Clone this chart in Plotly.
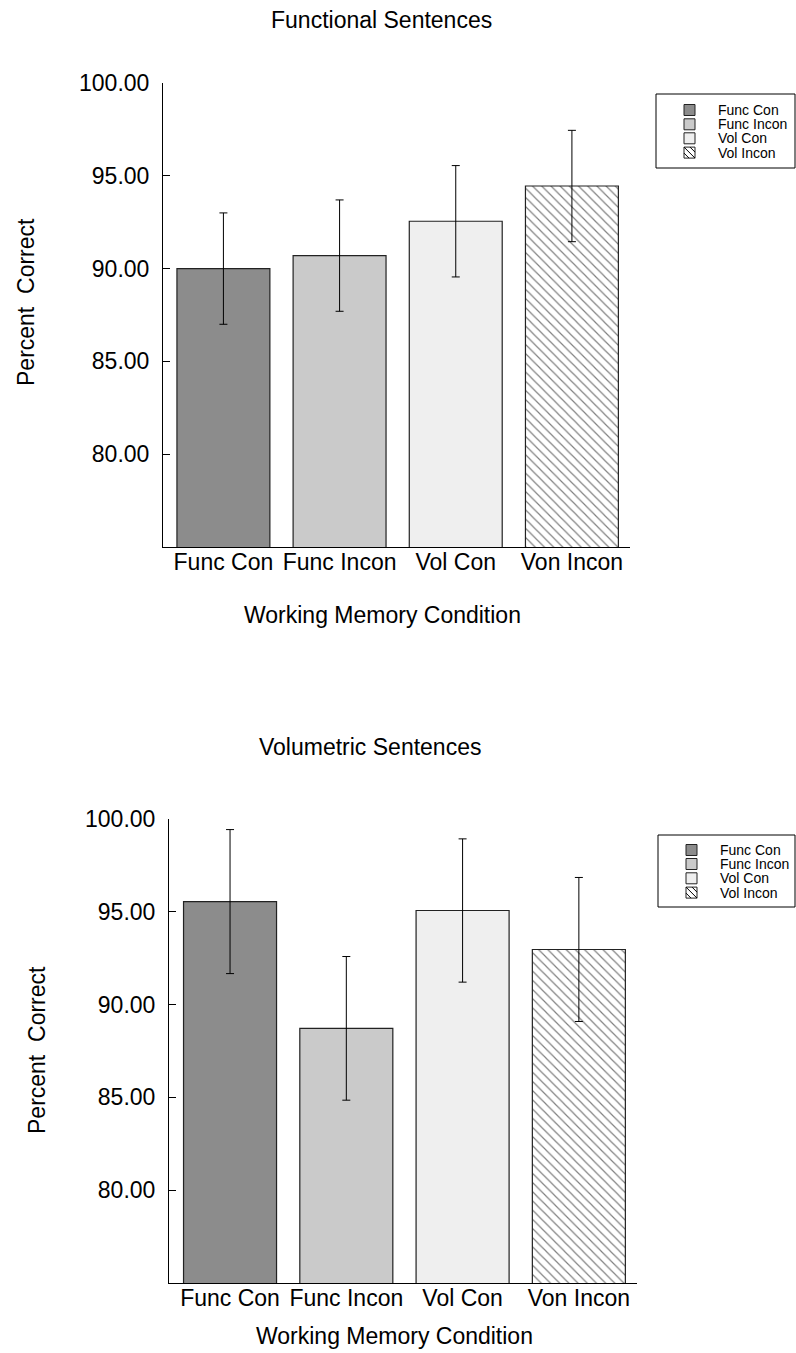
import plotly.graph_objects as go

W, H = 796, 1353

categories = ["Func Con", "Func Incon", "Vol Con", "Von Incon"]
legend_names = ["Func Con", "Func Incon", "Vol Con", "Vol Incon"]

functional_means = [90.0, 90.7, 92.55, 94.45]
functional_err = [3.0, 3.0, 3.0, 3.0]

volumetric_means = [95.55, 88.72, 95.07, 92.97]
volumetric_err = [3.88, 3.87, 3.86, 3.88]

y_ticks = [80, 85, 90, 95, 100]

fills = ["#8c8c8c", "#cacaca", "#efefef", "#ffffff"]
patterns = ["", "", "", "\\"]

FONT = "Liberation Sans, Arial, Helvetica, sans-serif"


def px_x(x):
    return x / W


def px_y(y):
    return 1 - y / H


fig = go.Figure()

for panel, (means, errs, xa, ya) in enumerate([
    (functional_means, functional_err, "x", "y"),
    (volumetric_means, volumetric_err, "x2", "y2"),
]):
    for i in range(4):
        fig.add_trace(go.Bar(
            x=[categories[i]], y=[means[i]],
            name=legend_names[i],
            width=0.8,
            xaxis=xa, yaxis=ya, showlegend=False,
            marker=dict(
                color=fills[i],
                line=dict(color="#222222", width=1.2),
                pattern=dict(shape=patterns[i], fgcolor="#000000", bgcolor="#ffffff",
                             size=6.5, solidity=0.18),
            ),
            error_y=dict(type="data", array=[errs[i]], color="#000000",
                         thickness=1, width=4),
        ))

axis_common_x = dict(
    type="category", categoryorder="array", categoryarray=categories,
    showline=True, linecolor="#000000", linewidth=1,
    ticks="", showgrid=False, zeroline=False, automargin=False,
    ticklabelstandoff=-6,
    tickfont=dict(family=FONT, size=23, color="#000000"),
)
axis_common_y = dict(
    range=[75, 100], tickvals=y_ticks, tickformat=".2f",
    showline=True, linecolor="#000000", linewidth=1,
    ticks="inside", ticklen=7, tickcolor="#000000", tickwidth=1,
    showgrid=False, zeroline=False, automargin=False,
    ticklabelstandoff=8,
    tickfont=dict(family=FONT, size=23, color="#000000"),
)

fig.update_layout(
    width=W, height=H,
    margin=dict(l=0, r=0, t=0, b=0, pad=0),
    paper_bgcolor="#ffffff", plot_bgcolor="#ffffff",
    barmode="overlay",
    showlegend=False,
    xaxis=dict(domain=[px_x(163), px_x(630)], anchor="y", range=[-0.52, 3.5], **axis_common_x),
    yaxis=dict(domain=[px_y(547), px_y(83)], anchor="x", **axis_common_y),
    xaxis2=dict(domain=[px_x(169), px_x(637)], anchor="y2", range=[-0.525, 3.5], **axis_common_x),
    yaxis2=dict(domain=[px_y(1283), px_y(819)], anchor="x2", **axis_common_y),
)

annots = [
    ("Functional Sentences", 381, 20, 0),
    ("Working Memory Condition", 382, 615, 0),
    ("Percent  Correct", 26, 302, -90),
    ("Volumetric Sentences", 370, 747, 0),
    ("Working Memory Condition", 394, 1336, 0),
    ("Percent  Correct", 37, 1050, -90),
]
for text, x, y, ang in annots:
    fig.add_annotation(
        text=text, x=px_x(x), y=px_y(y), xref="paper", yref="paper",
        xanchor="center", yanchor="middle", showarrow=False, textangle=ang,
        font=dict(family=FONT, size=23, color="#000000"),
    )

# Legend boxes (drawn to match the compact original legend)
legend_boxes = [
    dict(left=656, top=94, right=795, bottom=168, sw_left=684, txt_left=716,
         centers=[110, 124.3, 138.3, 152.6]),
    dict(left=658, top=835, right=795, bottom=907, sw_left=686, txt_left=718,
         centers=[850, 864, 878.3, 892.6]),
]
SW = 11
for box in legend_boxes:
    fig.add_shape(type="rect", xref="paper", yref="paper",
                  x0=px_x(box["left"]), x1=px_x(box["right"]),
                  y0=px_y(box["bottom"]), y1=px_y(box["top"]),
                  line=dict(color="#000000", width=1), fillcolor="#ffffff", layer="above")
    for i, cy in enumerate(box["centers"]):
        x0, x1 = box["sw_left"], box["sw_left"] + SW
        y0, y1 = cy - SW / 2, cy + SW / 2
        fig.add_shape(type="rect", xref="paper", yref="paper",
                      x0=px_x(x0), x1=px_x(x1), y0=px_y(y1), y1=px_y(y0),
                      line=dict(color="#222222", width=1), fillcolor=fills[i], layer="above")
        if patterns[i]:
            for off in (0, 6):
                fig.add_shape(type="line", xref="paper", yref="paper",
                              x0=px_x(x0 + off), y0=px_y(y0),
                              x1=px_x(x1), y1=px_y(y1 - off),
                              line=dict(color="#000000", width=1), layer="above")
            fig.add_shape(type="line", xref="paper", yref="paper",
                          x0=px_x(x0), y0=px_y(y0 + 6),
                          x1=px_x(x1 - 6), y1=px_y(y1),
                          line=dict(color="#000000", width=1), layer="above")
        fig.add_annotation(
            text=legend_names[i], x=px_x(box["txt_left"]), y=px_y(cy),
            xref="paper", yref="paper", xanchor="left", yanchor="middle",
            showarrow=False, font=dict(family=FONT, size=14, color="#000000"),
        )

fig.write_html("out.html")
